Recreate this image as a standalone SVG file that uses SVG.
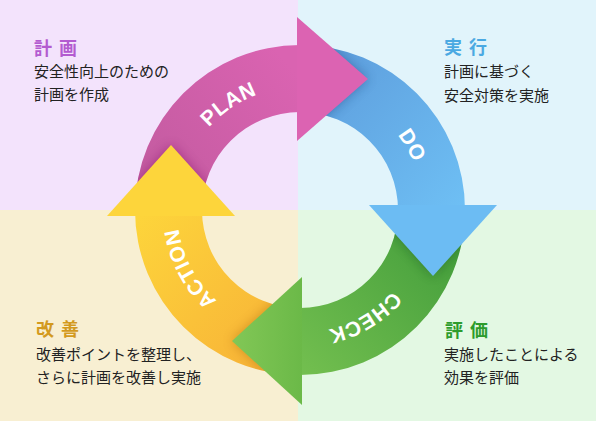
<svg xmlns="http://www.w3.org/2000/svg" width="596" height="421" viewBox="0 0 596 421">
<style>
.title{font-family:"Noto Sans CJK JP","Noto Sans",sans-serif;font-size:18px;font-weight:bold;letter-spacing:1.5px}
.body{font-family:"Noto Sans CJK JP","Noto Sans",sans-serif;font-size:15px;fill:#222}
.lbl{font-family:"Liberation Sans",Arial,sans-serif;font-size:21px;font-weight:bold;fill:#fff;letter-spacing:0.5px}
</style>
<defs>
<linearGradient id="gPink" gradientUnits="userSpaceOnUse" x1="135" y1="210" x2="300" y2="79"><stop offset="0" stop-color="#C05A9E"/><stop offset="1" stop-color="#DA63B1"/></linearGradient>
<linearGradient id="gBlue" gradientUnits="userSpaceOnUse" x1="300" y1="45" x2="465" y2="205"><stop offset="0" stop-color="#5C9ADA"/><stop offset="1" stop-color="#6EBFF4"/></linearGradient>
<linearGradient id="gGreen" gradientUnits="userSpaceOnUse" x1="465" y1="210" x2="300" y2="375"><stop offset="0" stop-color="#3E9A3A"/><stop offset="1" stop-color="#73BF4F"/></linearGradient>
<linearGradient id="gYellow" gradientUnits="userSpaceOnUse" x1="300" y1="375" x2="135" y2="216"><stop offset="0" stop-color="#F7AE37"/><stop offset="1" stop-color="#FDD53B"/></linearGradient>
<linearGradient id="gGreenHead" gradientUnits="userSpaceOnUse" x1="232" y1="0" x2="302" y2="0"><stop offset="0" stop-color="#82C756"/><stop offset="1" stop-color="#6BB948"/></linearGradient>
<path id="arcPink" d="M135,210 A165,165 0 0 1 300,45 L300,112 A98,98 0 0 0 202,210 Z"/>
<path id="arcBlue" d="M300,45 A165,165 0 0 1 465,210 L398,210 A98,98 0 0 0 300,112 Z"/>
<path id="arcGreen" d="M465,210 A165,165 0 0 1 300,375 L300,308 A98,98 0 0 0 398,210 Z"/>
<path id="arcYellow" d="M300,375 A165,165 0 0 1 135,210 L202,210 A98,98 0 0 0 300,308 Z"/>
<path id="headPink" d="M297,17 L368,79 L297,141 Z"/>
<path id="headBlue" d="M369,205 L497,205 L433,276 Z"/>
<path id="headGreen" d="M302,277 L302,405 L232,341 Z"/>
<path id="headYellow" d="M107,216 L235,216 L171,145 Z"/>
<clipPath id="cBlue"><use href="#arcBlue"/></clipPath>
<clipPath id="cGreen"><use href="#arcGreen"/></clipPath>
<clipPath id="cYellow"><use href="#arcYellow"/></clipPath>
<clipPath id="cPink"><use href="#arcPink"/></clipPath>
<filter id="blur" x="-30%" y="-30%" width="160%" height="160%"><feGaussianBlur stdDeviation="6"/></filter>
<path id="tPlan" d="M177.3,218.6 A123,123 0 0 1 353.9,99.4"/>
<path id="tDo" d="M300,87 A123,123 0 0 1 406.5,271.5"/>
<path id="tCheck" d="M423,207.9 A123,123 0 0 1 240.4,317.6"/>
<path id="tAction" d="M295.7,332.9 A123,123 0 0 1 195.7,144.8"/>
</defs>

<g id="background">
<rect x="0" y="0" width="298" height="210" fill="#F3E3FC"/>
<rect x="298" y="0" width="298" height="210" fill="#E1F4FB"/>
<rect x="0" y="210" width="298" height="211" fill="#F8EFD2"/>
<rect x="298" y="210" width="298" height="211" fill="#E3F8E3"/>
</g>

<g id="connectors">
<use href="#arcPink" fill="url(#gPink)"/>
<use href="#arcBlue" fill="url(#gBlue)"/>
<use href="#arcGreen" fill="url(#gGreen)"/>
<use href="#arcYellow" fill="url(#gYellow)"/>
<g clip-path="url(#cBlue)"><use href="#headPink" fill="#1d3f7a" opacity="0.45" filter="url(#blur)"/></g>
<g clip-path="url(#cGreen)"><use href="#headBlue" fill="#14501a" opacity="0.45" filter="url(#blur)"/></g>
<g clip-path="url(#cYellow)"><use href="#headGreen" fill="#9a5a00" opacity="0.4" filter="url(#blur)"/></g>
<g clip-path="url(#cPink)"><use href="#headYellow" fill="#7a1060" opacity="0.45" filter="url(#blur)"/></g>
<use href="#headPink" fill="#DC63B2"/>
<use href="#headBlue" fill="#6CBCF3"/>
<use href="#headGreen" fill="url(#gGreenHead)"/>
<use href="#headYellow" fill="#FDD53B"/>
</g>

<g id="plan"><text class="lbl"><textPath href="#tPlan" startOffset="50%" text-anchor="middle">PLAN</textPath></text></g>
<g id="do"><text class="lbl"><textPath href="#tDo" startOffset="50%" text-anchor="middle">DO</textPath></text></g>
<g id="check"><text class="lbl"><textPath href="#tCheck" startOffset="50%" text-anchor="middle">CHECK</textPath></text></g>
<g id="action"><text class="lbl"><textPath href="#tAction" startOffset="50%" text-anchor="middle">ACTION</textPath></text></g>

<g id="note-plan">
<text class="title" x="34" y="54.5" fill="#B35BD0">計 画</text>
<text class="body" x="34" y="77">安全性向上のための</text>
<text class="body" x="34" y="100">計画を作成</text>
</g>
<g id="note-do">
<text class="title" x="444" y="54" fill="#4BA9E2">実 行</text>
<text class="body" x="444" y="77">計画に基づく</text>
<text class="body" x="444" y="100.5">安全対策を実施</text>
</g>
<g id="note-action">
<text class="title" x="36" y="336" fill="#D39A1E">改 善</text>
<text class="body" x="36" y="360">改善ポイントを整理し、</text>
<text class="body" x="36" y="383">さらに計画を改善し実施</text>
</g>
<g id="note-check">
<text class="title" x="445" y="336.5" fill="#2D9C2D">評 価</text>
<text class="body" x="444" y="360">実施したことによる</text>
<text class="body" x="444" y="383">効果を評価</text>
</g>
</svg>
